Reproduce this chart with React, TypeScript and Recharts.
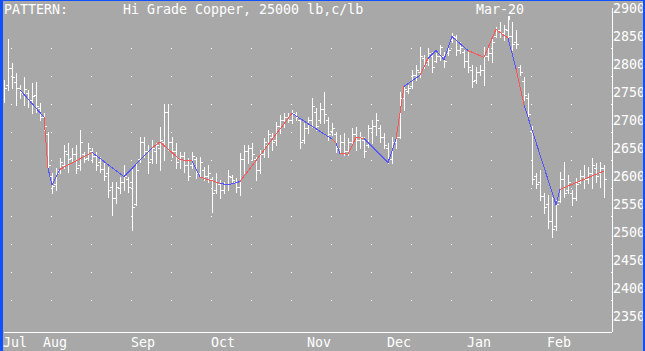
import { ComposedChart, Bar, Line, XAxis, YAxis, ReferenceLine } from "recharts"

const months = ["Jul", "Aug", "Sep", "Oct", "Nov", "Dec", "Jan", "Feb"]
const monthStarts = [0, 10, 32, 52, 76, 96, 116, 136]
const priceTicks = [2350, 2400, 2450, 2500, 2550, 2600, 2650, 2700, 2750, 2800, 2850, 2900]
const gridLevels = [2827, 2777, 2727, 2677, 2627, 2577, 2527, 2477, 2427, 2377]

// daily bars, Hi Grade Copper Mar-20
const high = [
  2771, 2844, 2802, 2784, 2762, 2777, 2754, 2766, 2768, 2730,
  2712, 2679, 2605, 2614, 2632, 2655, 2659, 2650, 2655, 2682,
  2643, 2659, 2650, 2643, 2634, 2625, 2616, 2589, 2589, 2598,
  2620, 2598, 2614, 2623, 2670, 2670, 2655, 2664, 2659, 2688,
  2729, 2729, 2670, 2659, 2643, 2643, 2632, 2643, 2634, 2634,
  2616, 2620, 2598, 2605, 2593, 2589, 2611, 2602, 2596, 2641,
  2655, 2655, 2659, 2634, 2646, 2668, 2682, 2677, 2696, 2709,
  2712, 2712, 2718, 2714, 2700, 2695, 2705, 2739, 2721, 2730,
  2750, 2705, 2695, 2679, 2673, 2677, 2668, 2686, 2688, 2679,
  2670, 2691, 2700, 2712, 2691, 2677, 2659, 2670, 2677, 2750,
  2759, 2762, 2789, 2798, 2830, 2816, 2829, 2821, 2820, 2834,
  2821, 2830, 2855, 2852, 2839, 2825, 2821, 2798, 2795, 2798,
  2830, 2829, 2848, 2866, 2875, 2870, 2886, 2875, 2861, 2798,
  2777, 2748, 2690, 2605, 2611, 2570, 2566, 2562, 2557, 2607,
  2625, 2602, 2575, 2596, 2611, 2620, 2616, 2632, 2623, 2625,
  2620,
]
const low = [
  2732, 2754, 2757, 2727, 2739, 2727, 2723, 2712, 2714, 2700,
  2682, 2611, 2570, 2575, 2605, 2614, 2607, 2625, 2605, 2611,
  2625, 2629, 2625, 2611, 2607, 2593, 2562, 2530, 2552, 2570,
  2575, 2571, 2504, 2548, 2625, 2634, 2605, 2623, 2623, 2611,
  2629, 2646, 2634, 2614, 2614, 2607, 2593, 2614, 2596, 2598,
  2593, 2589, 2536, 2570, 2561, 2570, 2575, 2587, 2571, 2566,
  2605, 2623, 2629, 2593, 2605, 2634, 2634, 2646, 2655, 2677,
  2688, 2696, 2695, 2700, 2650, 2659, 2677, 2688, 2682, 2695,
  2695, 2664, 2673, 2643, 2641, 2638, 2638, 2659, 2646, 2650,
  2634, 2652, 2659, 2673, 2661, 2650, 2623, 2623, 2650, 2668,
  2718, 2748, 2757, 2771, 2777, 2793, 2798, 2786, 2804, 2807,
  2795, 2816, 2839, 2816, 2820, 2795, 2786, 2759, 2766, 2780,
  2762, 2807, 2804, 2848, 2848, 2843, 2843, 2825, 2829, 2780,
  2736, 2700, 2585, 2579, 2557, 2534, 2507, 2491, 2504, 2554,
  2562, 2570, 2548, 2557, 2587, 2579, 2587, 2579, 2589, 2580,
  2562,
]
const open = [
  2741, 2762, 2793, 2768, 2757, 2746, 2748, 2735, 2745, 2722,
  2705, 2675, 2600, 2585, 2610, 2620, 2640, 2632, 2640, 2620,
  2640, 2632, 2645, 2635, 2625, 2612, 2605, 2580, 2560, 2578,
  2590, 2595, 2590, 2550, 2630, 2660, 2645, 2630, 2645, 2650,
  2660, 2715, 2660, 2645, 2630, 2635, 2620, 2620, 2630, 2605,
  2610, 2600, 2595, 2575, 2585, 2575, 2585, 2598, 2590, 2580,
  2630, 2645, 2650, 2630, 2610, 2640, 2655, 2670, 2665, 2690,
  2700, 2705, 2700, 2710, 2700, 2665, 2685, 2700, 2715, 2700,
  2720, 2700, 2680, 2675, 2650, 2660, 2645, 2660, 2675, 2665,
  2665, 2655, 2685, 2690, 2685, 2670, 2650, 2630, 2660, 2670,
  2740, 2752, 2760, 2780, 2785, 2810, 2805, 2815, 2805, 2815,
  2815, 2820, 2842, 2848, 2825, 2822, 2805, 2790, 2772, 2785,
  2790, 2815, 2820, 2850, 2860, 2855, 2860, 2850, 2840, 2795,
  2770, 2740, 2680, 2600, 2590, 2565, 2550, 2520, 2510, 2555,
  2595, 2575, 2570, 2560, 2590, 2600, 2595, 2605, 2615, 2605,
  2615,
]
const close = [
  2757, 2792, 2777, 2757, 2750, 2755, 2736, 2742, 2725, 2705,
  2690, 2620, 2582, 2605, 2625, 2645, 2630, 2640, 2615, 2660,
  2630, 2650, 2635, 2620, 2612, 2600, 2575, 2560, 2580, 2590,
  2600, 2580, 2545, 2610, 2660, 2645, 2625, 2650, 2655, 2665,
  2715, 2660, 2645, 2625, 2635, 2620, 2600, 2635, 2605, 2625,
  2600, 2605, 2570, 2590, 2575, 2585, 2600, 2592, 2580, 2630,
  2645, 2650, 2640, 2610, 2640, 2660, 2675, 2660, 2690, 2700,
  2705, 2700, 2712, 2705, 2660, 2685, 2700, 2725, 2690, 2720,
  2710, 2675, 2685, 2650, 2660, 2645, 2660, 2675, 2665, 2670,
  2645, 2685, 2690, 2700, 2670, 2655, 2630, 2660, 2670, 2740,
  2755, 2758, 2780, 2790, 2815, 2800, 2820, 2795, 2815, 2830,
  2805, 2825, 2850, 2825, 2830, 2805, 2795, 2770, 2785, 2790,
  2815, 2820, 2840, 2860, 2855, 2862, 2850, 2835, 2835, 2785,
  2745, 2710, 2595, 2585, 2565, 2545, 2520, 2505, 2550, 2595,
  2570, 2590, 2560, 2585, 2600, 2595, 2605, 2620, 2600, 2615,
  2595,
]

// pattern line pivots (bar index, price) and colour of each segment
const pivotIdx = [4, 10, 11, 12, 14, 22, 30, 37, 39, 44, 47, 49, 54, 56, 59, 72, 82, 83, 84, 86, 88, 90, 96, 98, 100, 104, 106, 108, 110, 112, 116, 120, 123, 126, 128, 130, 138, 139, 150]
const pivotVal = [2754, 2705, 2614, 2584, 2612, 2642, 2599, 2650, 2661, 2629, 2627, 2598, 2587, 2584, 2590, 2712, 2666, 2659, 2640, 2639, 2669, 2667, 2624, 2666, 2760, 2780, 2810, 2824, 2808, 2849, 2824, 2812, 2862, 2846, 2792, 2727, 2549, 2576, 2609]
const segColors = ["b", "r", "b", "b", "r", "b", "b", "r", "r", "r", "b", "r", "b", "b", "r", "b", "r", "b", "r", "r", "r", "b", "b", "r", "b", "r", "b", "b", "b", "b", "r", "r", "r", "b", "r", "b", "b", "r"]

const RED = "#ff5555"
const BLUE = "#5555ff"
const BG = "#a8a8a8"
const FONT = "DejaVu Sans Mono"

const data: any[] = high.map((h, i) => ({
  i,
  range: [low[i], h],
  open: open[i],
  close: close[i],
}))
segColors.forEach((_, k) => {
  data[pivotIdx[k]][`s${k}`] = pivotVal[k]
  data[pivotIdx[k + 1]][`s${k}`] = pivotVal[k + 1]
})

function OhlcBar(props: any) {
  const { x, y, width, height, payload } = props
  const [lo, hi] = payload.range
  const c = Math.round(x + width / 2)
  const py = (v: number) => Math.round(y + ((hi - v) / (hi - lo)) * height) + 0.5
  return (
    <g stroke="#fff" strokeWidth={1} shapeRendering="crispEdges">
      <line x1={c + 0.5} x2={c + 0.5} y1={Math.round(y)} y2={Math.round(y + height) + 1} />
      <line x1={c - 2} x2={c} y1={py(payload.open)} y2={py(payload.open)} />
      <line x1={c + 1} x2={c + 3} y1={py(payload.close)} y2={py(payload.close)} />
    </g>
  )
}

function MonthTick({ x, y, payload }: any) {
  const label = months[monthStarts.indexOf(payload.value)]
  return (
    <text x={x - 1} y={y} dy={15} fill="#fff" fontFamily={FONT} fontSize={13.3}>
      {label}
    </text>
  )
}

export default function App() {
  return (
    <div style={{ position: "absolute", left: 0, top: 0, width: 645, height: 351, background: BG, overflow: "hidden" }}>
      <ComposedChart width={645} height={351} data={data} margin={{ top: 8, right: 0, bottom: 0, left: 4 }}>
        {gridLevels.map((v) => (
          <ReferenceLine key={v} y={v} stroke="#fff" strokeDasharray="1 39" shapeRendering="crispEdges" />
        ))}
        <XAxis
          dataKey="i"
          type="number"
          domain={[0, 152]}
          ticks={monthStarts}
          interval={0}
          tick={<MonthTick />}
          tickLine={false}
          tickSize={0}
          tickMargin={0}
          axisLine={{ stroke: "#fff", shapeRendering: "crispEdges" }}
          height={19}
          allowDataOverflow
        />
        <YAxis
          orientation="right"
          domain={[2321.4, 2900]}
          ticks={priceTicks}
          interval={0}
          width={33}
          tickLine={false}
          tickSize={0}
          tickMargin={1}
          axisLine={{ stroke: "#fff", shapeRendering: "crispEdges" }}
          tick={{ fill: "#fff", fontFamily: FONT, fontSize: 13.3 }}
          allowDataOverflow
        />
        <Bar dataKey="range" barSize={2} shape={<OhlcBar />} isAnimationActive={false} />
        {segColors.map((c, k) => (
          <Line
            key={k}
            dataKey={`s${k}`}
            type="linear"
            stroke={c === "r" ? RED : BLUE}
            strokeWidth={1}
            shapeRendering="crispEdges"
            dot={false}
            activeDot={false}
            connectNulls
            isAnimationActive={false}
          />
        ))}
      </ComposedChart>
      <svg width={645} height={351} style={{ position: "absolute", left: 0, top: 0, pointerEvents: "none" }}>
        <g fill="#fff" fontFamily={FONT} fontSize={13.3}>
          <text x={4} y={14}>PATTERN:</text>
          <text x={123} y={14}>Hi Grade Copper, 25000 lb,c/lb</text>
          <text x={476} y={14}>Mar-20</text>
        </g>
        <line x1={509.5} x2={509.5} y1={16} y2={20} stroke="#fff" />
        <rect x={0} y={0} width={3} height={351} fill="#1050ff" />
        <rect x={0} y={0} width={645} height={1} fill="#1050ff" />
        <rect x={643} y={0} width={2} height={351} fill="#1050ff" />
      </svg>
    </div>
  )
}
